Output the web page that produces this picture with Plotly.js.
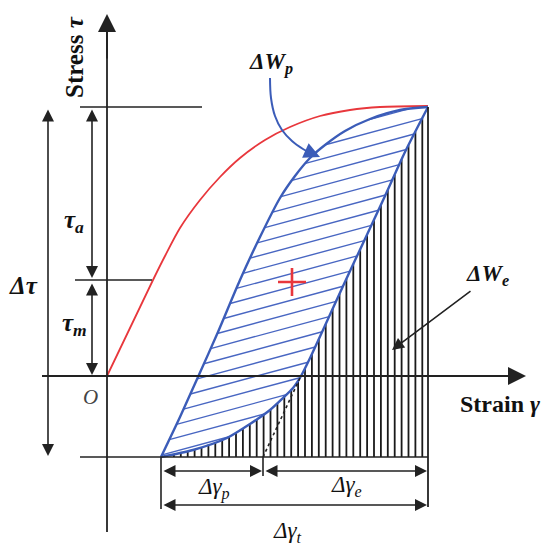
<!DOCTYPE html>
<html><head><meta charset="utf-8">
<script src="https://cdn.plot.ly/plotly-3.0.1.min.js"></script>
<style>html,body{margin:0;padding:0;background:#fff}#chart{width:550px;height:555px}</style>
</head><body><div id="chart"></div>
<script>
// schematic coordinates (pixel-like data space)
const redX = [107,153,165,180,200,220,240,265,290,320,350,380,428];
const redY = [376,280,256,228,200,177,158,140,127,116,110,107,106];
const loadX = [161,180,198,218,240,260,280,295,310,325,345,370,400,428];
const loadY = [457,417,377,332,280,237,198,176,158,145,131,119,110,107];
const unloadX = [161,193,227,250,270,283,293,301,311,323,344,365,385,405,428];
const unloadY = [457,450,438,424,410,398,388,376,356,330,284,239,196,152,107];
const dotX = [263,300];
const dotY = [457,378];
const arrowWpX = [270,271,275,282,292,303,312];
const arrowWpY = [78,98,116,130,141,149,154];
const tauLevels = {max:107, mean:280, min:457};
const originX = 107, originY = 376;
const gammaLeft = 161, gammaMid = 263, gammaRight = 428;

const BLUE = '#3b5cb8', RED = '#e8373c', INK = '#222';
const traces = [];

// slanted blue hatching clipped to the plastic-work region
const poly = loadX.map((x,i)=>[x,loadY[i]]).concat(unloadX.map((x,i)=>[x,unloadY[i]]).reverse());
const k = 0.27, hx = [], hy = [];
for (let c = 96; c < 580; c += 13.3) {
  const xs = [];
  for (let i = 0; i < poly.length - 1; i++) {
    const [x1,y1] = poly[i], [x2,y2] = poly[i+1];
    const f1 = y1 - (c - k*(x1-161)), f2 = y2 - (c - k*(x2-161));
    if ((f1 < 0) !== (f2 < 0)) { const t = f1/(f1-f2); xs.push(x1 + t*(x2-x1)); }
  }
  xs.sort((a,b)=>a-b);
  for (let j = 0; j + 1 < xs.length; j += 2) {
    hx.push(xs[j], xs[j+1], null);
    hy.push(c - k*(xs[j]-161), c - k*(xs[j+1]-161), null);
  }
}
traces.push({x:hx, y:hy, mode:'lines', line:{color:'#4866c2', width:1.4}, hoverinfo:'skip'});

// vertical black hatching for the elastic-work region
function interp(xa, ya, x){ for (let i=0;i<xa.length-1;i++){ if (x>=xa[i] && x<=xa[i+1]) { const t=(x-xa[i])/(xa[i+1]-xa[i]); return ya[i]+t*(ya[i+1]-ya[i]); } } return ya[ya.length-1]; }
const vx = [], vy = [];
for (let x = 167; x < gammaRight - 2; x += 6.9) { vx.push(x, x, null); vy.push(tauLevels.min, interp(unloadX, unloadY, x), null); }
traces.push({x:vx, y:vy, mode:'lines', line:{color:'#1a1a1a', width:1.8}, hoverinfo:'skip'});

// curves
traces.push({x:redX, y:redY, mode:'lines', line:{color:RED, width:1.8, shape:'spline', smoothing:0.8}});
traces.push({x:loadX, y:loadY, mode:'lines', line:{color:BLUE, width:2.4, shape:'spline', smoothing:0.7}});
traces.push({x:unloadX, y:unloadY, mode:'lines', line:{color:BLUE, width:2.4, shape:'spline', smoothing:0.7}});
traces.push({x:dotX, y:dotY, mode:'lines', line:{color:INK, width:1.6, dash:'dot'}});
traces.push({x:arrowWpX, y:arrowWpY, mode:'lines', line:{color:BLUE, width:2, shape:'spline'}});
traces.push({x:[292], y:[282], mode:'markers', marker:{symbol:'cross-thin', size:20, line:{color:RED, width:2.6}}});

function seg(x0,y0,x1,y1,w){ return {type:'line', xref:'x', yref:'y', x0, y0, x1, y1, line:{color:INK, width:w||1.6}}; }
const shapes = [
  seg(originX, 532, originX, 30, 1.8),
  seg(42, originY, 510, originY, 1.8),
  seg(80, tauLevels.max, 202, tauLevels.max),
  seg(75, tauLevels.mean, 152, tauLevels.mean),
  seg(80, tauLevels.min, gammaRight, tauLevels.min),
  seg(gammaRight, tauLevels.max, gammaRight, 507, 1.8),
  seg(gammaLeft, tauLevels.min, gammaLeft, 509),
  seg(gammaMid, tauLevels.min, gammaMid, 476)
];

function arr(x,y,ax,ay,opts){ return Object.assign({x,y,ax,ay,xref:'x',yref:'y',axref:'x',ayref:'y',text:'',showarrow:true,arrowhead:2,arrowsize:1.5,arrowwidth:1.6,arrowcolor:INK}, opts||{}); }
function dbl(x,y,ax,ay){ return arr(x,y,ax,ay,{arrowside:'end+start'}); }
const F = 'Liberation Serif';
function lab(x,y,text,size,opts){ return Object.assign({x,y,xref:'x',yref:'y',text,showarrow:false,font:{family:F,size:size,color:'#111'}}, opts||{}); }

const annotations = [
  arr(originX, 14, originX, 60, {arrowwidth:1.8, arrowsize:2}),
  arr(526, originY, 480, originY, {arrowwidth:1.8, arrowsize:2}),
  dbl(48, 456, 48, 108),
  dbl(92, 278, 92, 108),
  dbl(92, 375, 92, 282),
  dbl(gammaMid-1, 471, gammaLeft+1, 471),
  dbl(gammaRight-1, 471, gammaMid+1, 471),
  dbl(gammaRight-1, 505, gammaLeft+1, 505),
  arr(320, 157, 311, 153, {arrowcolor:BLUE, arrowwidth:2, arrowsize:1.6}),
  arr(392, 350, 472, 290, {arrowwidth:1.6}),
  lab(74, 57, '<b>Stress <i>τ</i></b>', 25, {textangle:-90}),
  lab(23, 285, '<b><i>Δτ</i></b>', 25),
  lab(74, 221, '<b><i>τ<sub>a</sub></i></b>', 25),
  lab(74, 324, '<b><i>τ<sub>m</sub></i></b>', 25),
  lab(90, 397, '<i>O</i>', 21, {font:{family:F,size:21,color:'#444'}}),
  lab(271, 63, '<b><i>ΔW<sub>p</sub></i></b>', 23),
  lab(487, 275, '<b><i>ΔW<sub>e</sub></i></b>', 23),
  lab(500, 404, '<b>Strain <i>γ</i></b>', 24),
  lab(214, 488, '<i>Δγ<sub>p</sub></i>', 23),
  lab(346, 486, '<i>Δγ<sub>e</sub></i>', 23),
  lab(287, 532, '<i>Δγ<sub>t</sub></i>', 23)
];

const layout = {
  width:550, height:555, margin:{l:0,r:0,t:0,b:0},
  paper_bgcolor:'#fff', plot_bgcolor:'#fff', showlegend:false,
  xaxis:{range:[0,550], visible:false, fixedrange:true},
  yaxis:{range:[555,0], visible:false, fixedrange:true},
  shapes, annotations
};
Plotly.newPlot('chart', traces, layout, {staticPlot:true});
</script></body></html>
